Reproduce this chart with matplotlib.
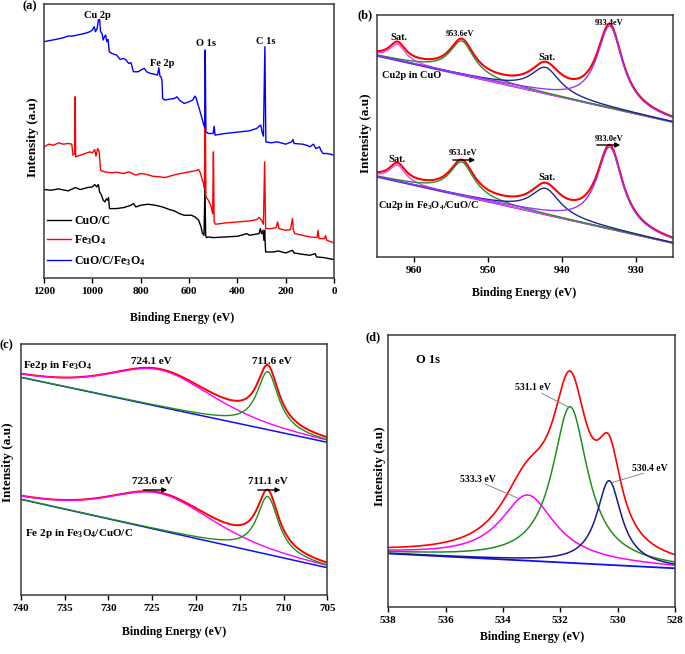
import numpy as np
import matplotlib
matplotlib.use('Agg')
import matplotlib.pyplot as plt

plt.rcParams['font.family'] = ['Liberation Serif', 'DejaVu Serif']
plt.rcParams['font.weight'] = 'bold'
plt.rcParams['mathtext.fontset'] = 'custom'
plt.rcParams['mathtext.rm'] = 'Liberation Serif:bold'
plt.rcParams['mathtext.it'] = 'Liberation Serif:bold'
plt.rcParams['mathtext.bf'] = 'Liberation Serif:bold'

# ------------------------------------------------------------------ data
# (a) survey spectra (binding energy eV, intensity a.u.)
survey_labels = ['CuO/C', r'Fe$_\mathrm{3}$O$_\mathrm{4}$', r'CuO/C/Fe$_\mathrm{3}$O$_\mathrm{4}$']
survey_colors = ['black', 'red', 'blue']

cuoc_energy = [1200, 1170, 1140, 1100, 1070, 1050, 1020, 1000, 990, 982, 975, 970, 962, 955, 948,
               942, 936, 933, 929, 900, 870, 840, 830, 820, 800, 770, 740, 710, 680, 660, 640,
               620, 590, 575, 560, 550, 545, 538, 534, 531, 528, 520, 500, 450, 400, 360, 350,
               310, 305, 300, 294, 290, 287, 283, 250, 230, 200, 172, 165, 130, 100, 78, 72, 40, 0]
cuoc_intensity = [265, 263, 267, 261, 271, 265, 271, 273, 280, 273, 280, 258, 248, 233, 228,
                  237, 233, 241, 208, 208, 211, 218, 223, 213, 218, 221, 218, 213, 205, 201, 193,
                  188, 188, 183, 173, 153, 135, 128, 273, 128, 121, 123, 121, 123, 125, 133, 128,
                  133, 148, 133, 143, 113, 143, 78, 78, 81, 75, 83, 75, 71, 68, 73, 63, 61, 55]

fe3o4_energy = [1200, 1180, 1160, 1140, 1120, 1100, 1085, 1080, 1073, 1071, 1069, 1050, 1030, 1010,
                1000, 990, 985, 978, 972, 966, 950, 920, 900, 870, 850, 820, 800, 780, 750, 720,
                700, 680, 650, 620, 600, 575, 560, 552, 545, 540, 536, 533, 530, 520, 510, 502,
                499, 496, 490, 470, 450, 400, 350, 320, 310, 300, 292, 287, 283, 260, 240, 233,
                228, 200, 180, 172, 168, 162, 130, 100, 70, 66, 62, 40, 35, 30, 10, 0]
fe3o4_intensity = [393, 401, 398, 405, 401, 403, 401, 368, 373, 543, 363, 368, 373, 378,
                   375, 385, 365, 388, 381, 323, 318, 315, 317, 313, 318, 308, 313, 311, 305, 303,
                   301, 305, 311, 315, 318, 321, 325, 313, 293, 283, 268, 533, 243, 233, 218, 193,
                   378, 168, 161, 163, 165, 168, 171, 175, 181, 173, 161, 348, 148, 148, 151, 168,
                   148, 143, 145, 178, 143, 133, 128, 123, 121, 143, 118, 118, 127, 113, 108, 105]

composite_energy = [1200, 1180, 1150, 1120, 1100, 1080, 1050, 1030, 1010, 1000, 992, 987, 980, 975,
                    970, 966, 960, 955, 950, 945, 940, 935, 930, 920, 900, 885, 870, 860, 850, 840,
                    830, 810, 795, 785, 775, 760, 745, 730, 725, 720, 715, 712, 709, 700, 680, 660,
                    650, 640, 620, 600, 585, 575, 570, 560, 550, 540, 535, 533, 530, 520, 500, 496,
                    492, 470, 450, 400, 350, 320, 310, 303, 298, 292, 286, 282, 260, 235, 200, 175,
                    170, 165, 130, 110, 100, 85, 75, 60, 55, 45, 30, 15, 0]
composite_intensity = [708, 711, 715, 720, 725, 725, 730, 733, 738, 743, 753, 738, 748, 773,
                       775, 738, 733, 713, 723, 728, 708, 715, 678, 673, 668, 655, 658, 653, 643, 645,
                       618, 618, 625, 628, 618, 613, 611, 608, 630, 605, 601, 593, 538, 533, 536, 538,
                       543, 533, 523, 528, 533, 545, 538, 513, 488, 461, 451, 683, 438, 433, 433, 455,
                       428, 431, 433, 437, 441, 448, 455, 458, 438, 425, 693, 408, 405, 408, 401, 408,
                       415, 403, 401, 397, 393, 401, 388, 393, 383, 373, 373, 371, 368]

survey_peak_names = ['Cu 2p', 'Fe 2p', 'O 1s', 'C 1s']
survey_ticks = [1200, 1000, 800, 600, 400, 200, 0]

# (b) Cu 2p fit: satellite, 2p1/2, satellite, 2p3/2
cu_centers = [962.2, 953.5, 942.2, 933.5]
cu_heights = [16.4, 33.8, 26.2, 81.9]
cu_fwhm = [2.6, 4.0, 4.8, 4.2]
cu_colors = ['#ff40ff', '#2e8b2e', '#22228c', '#9933ff']
cu_bg_energy = [965.0, 925.0]
cu_bg_top = [200.9, 134.7]
cu_set_offset = [0.0, -121.0]
cu_set_names = ['Cu2p in CuO', r'Cu2p in Fe$_\mathrm{3}$O$_\mathrm{4}$/CuO/C']
cu_ticks = [960, 950, 940, 930]

# (c) Fe 2p fit: 2p1/2 (+sat), 2p3/2
fe_centers = [724.1, 711.8]
fe_heights = [37.0, 58.0]
fe_fwhm = [14.0, 3.0]
fe_lorentz = [0.5, 1.0]
fe_colors = ['#ff00ff', '#1f8f1f']
fe_bg_energy = [740.0, 705.0]
fe_bg_sets = [[217.7, 152.7], [95.7, 27.3]]
fe_set_names = [r'Fe2p in Fe$_\mathrm{3}$O$_\mathrm{4}$', r'Fe 2p in Fe$_\mathrm{3}$O$_\mathrm{4}$/CuO/C']
fe_ticks = [740, 735, 730, 725, 720, 715, 710, 705]

# (d) O 1s fit
o_centers = [533.14, 531.66, 530.30]
o_heights = [65.7, 156.2, 84.2]
o_fwhm = [2.3, 1.5, 1.05]
o_colors = ['#ff00ff', '#1f8f1f', '#1a1a8c']
o_bg_energy = [538.0, 528.0]
o_bg = [53.8, 39.0]
o_ticks = [538, 536, 534, 532, 530, 528]


def pvoigt(x, c, h, w, eta=1.0):
    lor = 1.0 / (1.0 + (2.0 * (x - c) / w) ** 2)
    gau = np.exp(-4.0 * np.log(2) * ((x - c) / w) ** 2)
    return h * (eta * lor + (1 - eta) * gau)


# ------------------------------------------------------------------ layout
W, H = 685, 654
fig = plt.figure(figsize=(W / 100, H / 100), dpi=100)


def add_ax(l, t, r, b):
    return fig.add_axes([l / W, 1 - b / H, (r - l) / W, (b - t) / H])


def fp(x, y):
    return (x / W, 1 - y / H)


SPINE = '#3a3a3a'


def style(ax, xlim, ticks, xlab_px, ylab_px, ylim):
    ax.set_xlim(*xlim)
    ax.set_ylim(*ylim)
    ax.set_xticks(ticks)
    ax.set_yticks([])
    ax.tick_params(axis='x', direction='out', length=3.5, width=1, pad=3,
                   labelsize=8, colors='black')
    for lab in ax.get_xticklabels():
        lab.set_fontweight('bold')
    for s in ax.spines.values():
        s.set_color(SPINE)
        s.set_linewidth(1.1)
    ax.set_xlabel('Binding Energy (eV)', fontsize=8.5, fontweight='bold')
    ax.xaxis.set_label_coords(*fp(*xlab_px), transform=fig.transFigure)
    ax.xaxis.label.set_va('center')
    ax.set_ylabel('Intensity (a.u)', fontsize=9.5, fontweight='bold')
    ax.yaxis.set_label_coords(*fp(*ylab_px), transform=fig.transFigure)
    ax.yaxis.label.set_va('center')
    ax.yaxis.label.set_ha('center')


def ftext(x, y, s, size=7.5, ha='center', va='center'):
    fig.text(*fp(x, y), s, fontsize=size, fontweight='bold', ha=ha, va=va)


def farrow(x0, x1, y):
    fig.add_artist(matplotlib.patches.FancyArrowPatch(
        fp(x0, y), fp(x1, y), transform=fig.transFigure, arrowstyle='-|>',
        mutation_scale=7, lw=1.0, color='black'))


def fleader(x0, y0, x1, y1):
    fig.add_artist(matplotlib.lines.Line2D([fp(x0, y0)[0], fp(x1, y1)[0]],
                                           [fp(x0, y0)[1], fp(x1, y1)[1]],
                                           transform=fig.transFigure, color='#777777', lw=0.6))


# ---------------- (a)
axa = add_ax(44, 4, 334, 278)
series = [(cuoc_energy, cuoc_intensity), (fe3o4_energy, fe3o4_intensity),
          (composite_energy, composite_intensity)]
for (e, i), lab, col in zip(series, survey_labels, survey_colors):
    axa.plot(e, i, color=col, lw=1.0, label=lab)
style(axa, (1200, 0), survey_ticks, (182, 318), (33, 137), (0, 821))
leg = axa.legend(loc='upper left', bbox_to_anchor=fp(47, 215), bbox_transform=fig.transFigure,
                 frameon=False, fontsize=8.5, handlelength=2.0, handletextpad=0.3,
                 labelspacing=0.55, borderpad=0, borderaxespad=0)
for t in leg.get_texts():
    t.set_fontweight('bold')
for name, (x, y) in zip(survey_peak_names, [(97, 15), (162, 63), (206, 43), (266, 41)]):
    ftext(x, y, name, size=7.5)
ftext(30, 6, '(a)', size=9)

# ---------------- (b)
axb = add_ax(376.7, 15, 672.7, 256.7)
xb = np.linspace(965, 925, 600)
for off in cu_set_offset:
    bg = np.interp(xb, cu_bg_energy[::-1], [v + off for v in cu_bg_top[::-1]])
    comps = [pvoigt(xb, c, h, w) for c, h, w in zip(cu_centers, cu_heights, cu_fwhm)]
    axb.plot(xb, bg + sum(comps), color='red', lw=1.5)
    axb.plot(xb, bg, color='#3a3ad0', lw=1.3)
    for comp, col in zip(comps, cu_colors):
        axb.plot(xb, bg + comp, color=col, lw=1.0)
style(axb, (965, 925), cu_ticks, (524.5, 293.3), (366, 133), (0, 241.7))
ftext(399, 38, 'Sat.', size=7.5)
ftext(460, 34, '953.6eV', size=6)
ftext(547, 57, 'Sat.', size=7.5)
ftext(609, 23, '933.4eV', size=6)
ftext(382.5, 75, cu_set_names[0], size=7.5, ha='left')
ftext(397, 160, 'Sat.', size=7.5)
ftext(463, 153, '953.1eV', size=6)
farrow(450, 478, 160)
ftext(547, 178, 'Sat.', size=7.5)
ftext(609, 139, '933.0eV', size=6)
farrow(594, 623, 145)
ftext(378.5, 205, cu_set_names[1], size=7.5, ha='left')
ftext(365, 15, '(b)', size=9)

# ---------------- (c)
axc = add_ax(20.7, 344, 327.3, 595)
xc = np.linspace(740, 705, 600)
for bgv in fe_bg_sets:
    bg = np.interp(xc, fe_bg_energy[::-1], bgv[::-1])
    comps = [pvoigt(xc, c, h, w, e) for c, h, w, e in zip(fe_centers, fe_heights, fe_fwhm, fe_lorentz)]
    axc.plot(xc, bg + sum(comps), color='red', lw=1.4)
    axc.plot(xc, bg, color='#1010f0', lw=1.1)
    for comp, col in zip(comps, fe_colors):
        axc.plot(xc, bg + comp, color=col, lw=1.0)
style(axc, (740, 705), fe_ticks, (174, 631.7), (8.5, 462.5), (0, 251))
ftext(23.3, 365, fe_set_names[0], size=8, ha='left')
ftext(151.7, 361.7, '724.1 eV', size=8)
ftext(271.7, 361.7, '711.6 eV', size=8)
ftext(152.7, 481.7, '723.6 eV', size=8)
farrow(140.7, 170, 490)
ftext(268.3, 481.7, '711.1 eV', size=8)
farrow(255, 283.3, 490)
ftext(25, 534, fe_set_names[1], size=8, ha='left')
ftext(6, 345, '(c)', size=9)

# ---------------- (d)
axd = add_ax(388.3, 335, 675, 607.3)
xd = np.linspace(538, 528, 600)
bg = np.interp(xd, o_bg_energy[::-1], o_bg[::-1])
comps = [pvoigt(xd, c, h, w) for c, h, w in zip(o_centers, o_heights, o_fwhm)]
axd.plot(xd, bg, color='#1010f0', lw=1.3)
for comp, col in zip(comps, o_colors):
    axd.plot(xd, bg + comp, color=col, lw=1.1)
axd.plot(xd, bg + sum(comps), color='red', lw=1.2)
style(axd, (538, 528), o_ticks, (531.7, 636.7), (380, 466), (0, 272.3))
ftext(416, 360, 'O 1s', size=9, ha='left')
ftext(533.3, 387.3, '531.1 eV', size=7)
fleader(541.7, 393.3, 567.7, 406.7)
ftext(650, 468.3, '530.4 eV', size=7)
fleader(643.3, 473.3, 611.7, 482.7)
ftext(478.3, 479, '533.3 eV', size=7)
fleader(485, 484, 518.3, 498.3)
ftext(373, 337, '(d)', size=9)

fig.savefig('out.png', dpi=100)
